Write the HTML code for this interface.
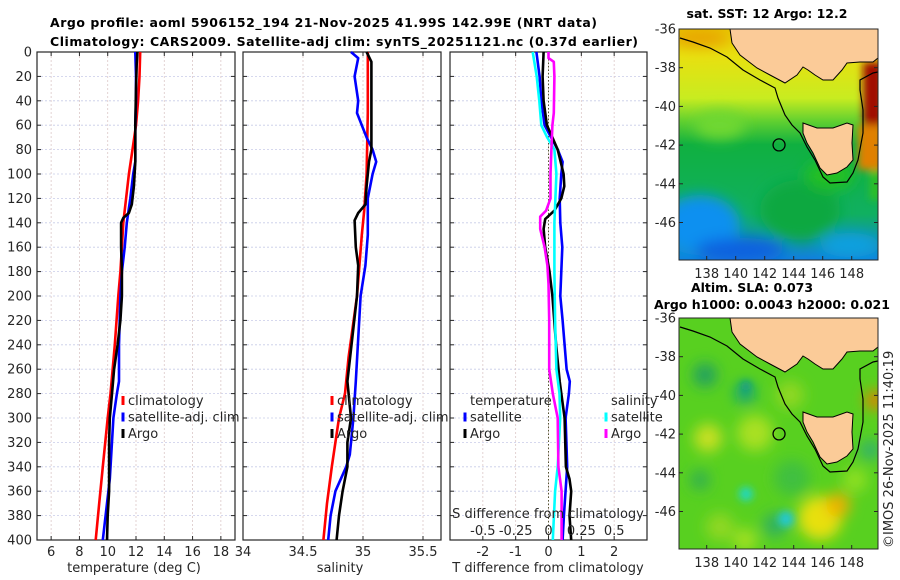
<!DOCTYPE html>
<html><head><meta charset="utf-8"><style>
body{margin:0;background:#fff;}
svg{display:block;font-family:"DejaVu Sans","Liberation Sans",sans-serif;}
.t{font-size:13px;fill:#262626;}
.b{font-size:12.5px;font-weight:bold;fill:#000;}
</style></head><body>
<svg id="c" width="900" height="580" viewBox="0 0 900 580">
<defs>
<filter id="bl" x="-50%" y="-50%" width="200%" height="200%"><feGaussianBlur stdDeviation="7"/></filter>
<filter id="bl2" x="-50%" y="-50%" width="200%" height="200%"><feGaussianBlur stdDeviation="4"/></filter>
<clipPath id="m1"><rect x="679" y="29" width="199" height="231"/></clipPath>
<clipPath id="m2"><rect x="679" y="318" width="199" height="231"/></clipPath>
<linearGradient id="sst" x1="0" y1="0" x2="0" y2="1">
<stop offset="0" stop-color="#e8c800"/><stop offset="0.12" stop-color="#e8e010"/><stop offset="0.3" stop-color="#c8ec20"/>
<stop offset="0.4" stop-color="#60d030"/><stop offset="0.5" stop-color="#10b040"/><stop offset="0.8" stop-color="#10b060"/><stop offset="1" stop-color="#1080e0"/>
</linearGradient>
</defs>
<text class="b" x="50" y="27" textLength="547">Argo profile: aoml 5906152_194 21-Nov-2025 41.99S 142.99E (NRT data)</text>
<text class="b" x="50" y="46" textLength="588">Climatology: CARS2009. Satellite-adj clim: synTS_20251121.nc (0.37d earlier)</text>
<g id="plots"></g>
<g id="maps"></g>
</svg>
<script>
// ---- data ----
const depthTicks=[0,20,40,60,80,100,120,140,160,180,200,220,240,260,280,300,320,340,360,380,400];
const tTicks=[6,8,10,12,14,16,18];
const sTicks=[34,34.5,35,35.5];
const sTickLabels=["34","34.5","35","35.5"];
const dTTicks=[-2,-1,0,1,2];
const dSTicks=[-0.5,-0.25,0,0.25,0.5];
const dSTickLabels=["-0.5","-0.25","0","0.25","0.5"];

const tClimDepth=[0,20,40,60,80,100,120,140,160,180,200,240,280,300,340,370,400];
const tClim=[12.3,12.25,12.15,12.0,11.75,11.5,11.3,11.1,11.0,10.9,10.75,10.5,10.2,10.0,9.65,9.4,9.15];
const tSatDepth=[0,20,40,60,80,90,100,120,140,160,180,200,240,270,280,300,350,380,400];
const tSat=[11.95,12.0,12.0,11.95,11.95,11.95,11.8,11.6,11.35,11.2,11.0,10.9,10.8,10.8,10.65,10.4,10.15,9.85,9.65];
const tArgoDepth=[0,10,30,60,90,110,125,132,136,140,160,180,200,220,240,260,280,300,320,340,360,380,400];
const tArgo=[12.1,12.05,12.0,11.95,11.95,11.85,11.7,11.5,11.1,10.95,10.95,11.0,11.0,10.9,10.7,10.45,10.3,10.15,10.1,10.1,10.1,10.0,9.95];

const sClimDepth=[0,50,100,130,150,200,250,280,300,340,370,400];
const sClim=[35.04,35.04,35.03,35.01,34.99,34.95,34.88,34.85,34.8,34.74,34.7,34.67];
const sSatDepth=[0,5,20,40,50,70,80,90,100,120,150,175,200,270,300,330,340,360,380,400];
const sSat=[34.9,34.96,34.93,34.96,34.95,35.03,35.08,35.11,35.08,35.04,35.04,35.02,34.98,34.94,34.92,34.89,34.86,34.77,34.73,34.71];
const sArgoDepth=[0,8,20,50,80,90,110,125,132,138,160,175,200,270,300,320,340,360,380,400];
const sArgo=[35.03,35.07,35.07,35.07,35.07,35.05,35.03,35.02,34.96,34.93,34.94,34.96,34.95,34.87,34.9,34.87,34.87,34.83,34.8,34.78];

const dTSatDepth=[0,20,40,60,70,80,90,100,120,140,160,200,220,240,260,270,280,300,340,380,400];
const dTSat=[-0.37,-0.27,-0.22,-0.12,0.08,0.28,0.43,0.39,0.34,0.36,0.42,0.36,0.43,0.49,0.55,0.65,0.62,0.52,0.57,0.47,0.43];
const dTArgoDepth=[0,20,40,60,70,80,100,110,120,130,137,145,160,180,200,240,270,300,340,350,360,380,400];
const dTArgo=[-0.15,-0.18,-0.15,-0.05,0.12,0.28,0.46,0.48,0.39,0.18,-0.1,-0.15,-0.1,0.03,0.12,0.23,0.34,0.49,0.53,0.64,0.69,0.64,0.69];
const dSSatDepth=[0,20,40,60,70,80,100,140,180,220,260,280,300,340,360,400];
const dSSat=[-0.12,-0.09,-0.07,-0.055,-0.01,0.045,0.06,0.045,0.045,0.05,0.06,0.084,0.089,0.07,0.05,0.033];
const dSArgoDepth=[0,5,8,20,50,60,80,100,120,130,135,145,160,175,190,220,260,280,300,340,360,400];
const dSArgo=[0,0,0.04,0.045,0.04,0.03,0.022,0.015,0.015,-0.018,-0.063,-0.063,-0.03,-0.008,0,0.005,0.005,0.033,0.07,0.075,0.1,0.1];

// ---- axes ----
const Y0=52,Y1=540;
const yS=d=>Y0+(d/400)*(Y1-Y0);
const P1={x0:37,x1:235,min:5,max:19};
const P2={x0:243,x1:441,min:34,max:35.65};
const P3={x0:450,x1:647,min:-3,max:3};
const P3S={x0:450,x1:647,min:-0.75,max:0.75};
const xS=(p,v)=>p.x0+(v-p.min)/(p.max-p.min)*(p.x1-p.x0);
const NS="http://www.w3.org/2000/svg";
const G=document.getElementById('plots');
function mk(tag,attrs,parent){const e=document.createElementNS(NS,tag);for(const k in attrs)e.setAttribute(k,attrs[k]);(parent||G).appendChild(e);return e;}
function txt(s,x,y,anchor,parent){const e=mk('text',{x:x,y:y,'text-anchor':anchor||'start',class:'t'},parent);e.textContent=s;return e;}

function panel(p,name,gridVals,gridScale){
  const g=mk('g',{});
  
  
  depthTicks.forEach(d=>{mk('line',{x1:p.x0,x2:p.x1,y1:yS(d),y2:yS(d),stroke:'#c8cce8','stroke-width':0.8,'stroke-dasharray':'2,2'},g);});
  gridVals.forEach(v=>{const x=xS(gridScale||p,v);mk('line',{x1:x,x2:x,y1:Y0,y2:Y1,stroke:'#dcc8c8','stroke-width':0.8,'stroke-dasharray':'2,2'},g);});
  mk('rect',{x:p.x0,y:Y0,width:p.x1-p.x0,height:Y1-Y0,fill:'none',stroke:'#262626','stroke-width':1.2},g);
  depthTicks.forEach(d=>{mk('line',{x1:p.x0,x2:p.x0+4,y1:yS(d),y2:yS(d),stroke:'#262626'},g);mk('line',{x1:p.x1,x2:p.x1-4,y1:yS(d),y2:yS(d),stroke:'#262626'},g);});
  return g;
}
function series(p,vals,depths,color,name,w){
  const pts=vals.map((v,i)=>xS(p,v).toFixed(1)+','+yS(depths[i]).toFixed(1)).join(' ');
  const e=mk('polyline',{points:pts,fill:'none',stroke:color,'stroke-width':w||2.6,'stroke-linejoin':'round'});
  
  
}
function xticks(p,vals,labels,y){
  vals.forEach((v,i)=>{const x=xS(p,v);mk('line',{x1:x,x2:x,y1:Y1,y2:Y1-4,stroke:'#262626'});mk('line',{x1:x,x2:x,y1:Y0,y2:Y0+4,stroke:'#262626'});
    const t=txt(labels?labels[i]:String(v),x,y,'middle');});
}

// panel 1
panel(P1,'temperature-panel',tTicks);
depthTicks.forEach(d=>{const t=txt(String(d),32,yS(d)+4.5,'end');});
xticks(P1,tTicks,null,556);
series(P1,tClim,tClimDepth,'#ff0000','temp-climatology-line');
series(P1,tSat,tSatDepth,'#0000ff','temp-satellite-line');
series(P1,tArgo,tArgoDepth,'#000000','temp-argo-line');
let at=txt('temperature (deg C)',134,572,'middle');

// panel 2
panel(P2,'salinity-panel',sTicks);
xticks(P2,sTicks,sTickLabels,556);
series(P2,sClim,sClimDepth,'#ff0000','sal-climatology-line');
series(P2,sSat,sSatDepth,'#0000ff','sal-satellite-line');
series(P2,sArgo,sArgoDepth,'#000000','sal-argo-line');
at=txt('salinity',340,572,'middle');

// panel 3
panel(P3,'difference-panel',dTTicks);
const zx=xS(P3,0);
mk('line',{x1:zx,x2:zx,y1:Y0,y2:Y1,stroke:'#555533','stroke-width':1,'stroke-dasharray':'1.5,2'});
xticks(P3,dTTicks,null,556);
series(P3,dTSat,dTSatDepth,'#0000ff','tdiff-satellite-line');
series(P3,dTArgo,dTArgoDepth,'#000000','tdiff-argo-line');
series(P3S,dSSat,dSSatDepth,'#00ffff','sdiff-satellite-line');
series(P3S,dSArgo,dSArgoDepth,'#ff00ff','sdiff-argo-line');
at=txt('T difference from climatology',548,572,'middle');
at=txt('S difference from climatology',548,518,'middle');
dSTicks.forEach((v,i)=>{const t=txt(dSTickLabels[i],xS(P3S,v),535,'middle');});

// legends
function legend(x,y,items,name){
  const g=mk('g',{});
  
  
  items.forEach((it,i)=>{const yy=y+i*16.5;
    if(it[1]) mk('line',{x1:x,x2:x,y1:yy-9,y2:yy+0,stroke:it[1],'stroke-width':3},g);
    txt(it[0],x+5,yy,'start',g);});
}
legend(123,405,[['climatology','#ff0000'],['satellite-adj. clim','#0000ff'],['Argo','#000000']],'temperature-legend');
legend(332,405,[['climatology','#ff0000'],['satellite-adj. clim','#0000ff'],['Argo','#000000']],'salinity-legend');
legend(465,405,[['temperature',null],['satellite','#0000ff'],['Argo','#000000']],'tdiff-legend');
legend(606,405,[['salinity',null],['satellite','#00ffff'],['Argo','#ff00ff']],'sdiff-legend');

// ---- maps ----
const M=document.getElementById('maps');
const lonTicks=[138,140,142,144,146,148];
const latTicks=[-36,-38,-40,-42,-44,-46];
const lonS=l=>706.7+(l-138)*14.5;
const latS=(l,top)=>top+(-36-l)*19.35;
const argoLon=142.99, argoLat=-41.99;
const land="730,29 732,43 740,55 757,68 770,75 785,83 797,75 803,67 808,70 815,75 823,80 833,80 842,70 847,63 860,62 873,62 878,58 878,29";
const tas="803,123 817,128 833,128 847,123 853,125 852,143 853,160 847,167 837,173 827,175 820,168 813,153 807,143 803,133";
const shelf="680,38 693,42 710,48 727,57 743,70 760,80 775,88 778,98 785,115 792,125 800,133 807,147 815,160 823,177 830,183 847,182 853,173 858,160 863,133 863,110 860,90 860,80 873,73 878,72";
function shift(pts,dy){return pts.split(' ').map(p=>{const [a,b]=p.split(',');return a+','+(+b+dy);}).join(' ');}
function mapFrame(top,name,clip,bg){
  const g=mk('g',{},M);
  
  
  const inner=mk('g',{'clip-path':'url(#'+clip+')'},g);
  bg(inner);
  const dy=top-29;
  mk('polygon',{points:shift(land,dy),fill:'#fbcb98',stroke:'#000','stroke-width':1},inner);
  mk('polygon',{points:shift(tas,dy),fill:'#fbcb98',stroke:'#000','stroke-width':1},inner);
  mk('polyline',{points:shift(shelf,dy),fill:'none',stroke:'#000','stroke-width':1.2},inner);
  const mkc=mk('circle',{cx:lonS(argoLon),cy:latS(argoLat,top),r:6,fill:'none',stroke:'#000','stroke-width':1.3},g);
  
  
  mk('rect',{x:679,y:top,width:199,height:231,fill:'none',stroke:'#262626','stroke-width':1},g);
  lonTicks.forEach(l=>{const x=lonS(l);mk('line',{x1:x,x2:x,y1:top+231,y2:top+227,stroke:'#262626'},g);txt(String(l),x,top+249,'middle',g);});
  latTicks.forEach(l=>{const y=latS(l,top);mk('line',{x1:679,x2:683,y1:y,y2:y,stroke:'#262626'},g);mk('line',{x1:878,x2:874,y1:y,y2:y,stroke:'#262626'},g);txt(String(l),676,y+4.5,'end',g);});
}
mapFrame(29,'sst-map','m1',g=>{
  mk('rect',{x:679,y:29,width:199,height:231,fill:'url(#sst)'},g);
  const f=mk('g',{filter:'url(#bl)'},g);
  mk('ellipse',{cx:700,cy:225,rx:40,ry:30,fill:'#1090f0'},f);
  mk('ellipse',{cx:740,cy:250,rx:45,ry:12,fill:'#1060e0'},f);
  mk('ellipse',{cx:850,cy:245,rx:30,ry:12,fill:'#10a0e0'},f);
  mk('ellipse',{cx:700,cy:38,rx:30,ry:8,fill:'#e8a000'},f);
  mk('ellipse',{cx:720,cy:125,rx:25,ry:14,fill:'#70d830'},f);
  mk('ellipse',{cx:800,cy:210,rx:40,ry:30,fill:'#10a840'},f);
  mk('ellipse',{cx:830,cy:175,rx:25,ry:15,fill:'#20c020'},f);
  const f2=mk('g',{filter:'url(#bl2)'},g);
  mk('rect',{x:863,y:62,width:20,height:65,fill:'#a01000'},f2);
  mk('rect',{x:858,y:125,width:25,height:45,fill:'#e08000'},f2);
  mk('rect',{x:870,y:170,width:10,height:30,fill:'#30c020'},f2);
});
mapFrame(318,'sla-map','m2',g=>{
  mk('rect',{x:679,y:318,width:199,height:231,fill:'#58d020'},g);
  const f=mk('g',{filter:'url(#bl)'},g);
  [[705,375,12,'#20a060'],[745,393,10,'#10a080'],[708,438,14,'#c8e020'],[755,433,18,'#a8e020'],[792,478,18,'#40c040'],
   [720,527,14,'#90d820'],[745,540,12,'#a0e020'],[775,525,12,'#30b060'],[820,518,22,'#e8e010'],[838,505,12,'#f0b000'],
   [790,395,14,'#90d820'],[875,400,10,'#e08000'],[870,450,10,'#30b070'],[700,480,10,'#30b050'],[855,480,12,'#90e020']].forEach(c=>{
     mk('circle',{cx:c[0],cy:c[1],r:c[2],fill:c[3]},f);});
  const f2=mk('g',{filter:'url(#bl2)'},g);
  mk('circle',{cx:746,cy:494,r:7,fill:'#20d8c0'},f2);
  mk('circle',{cx:786,cy:519,r:8,fill:'#20c8d0'},f2);
  mk('circle',{cx:746,cy:386,r:5,fill:'#109890'},f2);
});
const mt=[['sat. SST: 12 Argo: 12.2',767,18,'map-title-sst'],['Altim. SLA: 0.073',752,292,'map-title-sla'],['Argo h1000: 0.0043 h2000: 0.021',654,309,'map-subtitle-sla']];
mt.forEach(m=>{const e=mk('text',{x:m[1],y:m[2],'text-anchor':m[0].startsWith('Argo')?'start':'middle',class:'b'},M);e.textContent=m[0];
  
  });
const imos=mk('text',{x:0,y:0,class:'t',transform:'translate(893,548) rotate(-90)'},M);
imos.textContent='©IMOS 26-Nov-2025 11:40:19';


</script>
</body></html>
